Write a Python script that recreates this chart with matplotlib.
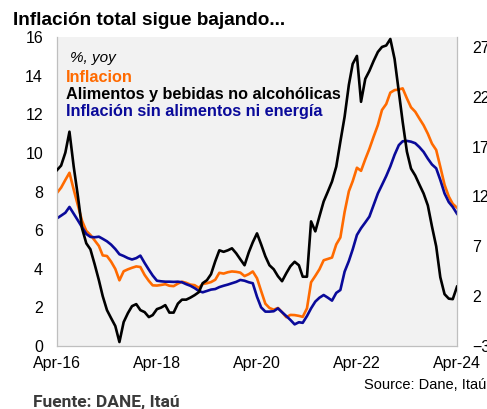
import matplotlib
matplotlib.use('agg')
import matplotlib.pyplot as plt
import matplotlib.dates as mdates
import pandas as pd

plt.rcParams['font.family'] = ['Liberation Sans', 'DejaVu Sans']

W, H = 487, 409

ORANGE = '#FF6A00'
BLUE = '#0A0A9A'
BLACK = '#000000'
BG = '#F2F2F2'
GRID = '#BFBFBF'

months = pd.date_range('2016-04-01', periods=97, freq='MS')

# headline CPI, % yoy (left axis)
inflacion = [
    7.93, 8.20, 8.60, 8.97, 8.10, 7.27, 6.48, 5.96, 5.75,
    5.47, 5.18, 4.69, 4.66, 4.37, 3.99, 3.40, 3.87, 3.97, 4.05, 4.12, 4.09,
    3.68, 3.37, 3.14, 3.13, 3.16, 3.20, 3.12, 3.10, 3.23, 3.33, 3.27, 3.18,
    3.15, 3.01, 3.21, 3.25, 3.31, 3.43, 3.79, 3.75, 3.82, 3.86, 3.84, 3.80,
    3.62, 3.72, 3.86, 3.51, 2.85, 2.19, 1.97, 1.88, 1.97, 1.75, 1.49, 1.61,
    1.60, 1.56, 1.51, 1.95, 3.30, 3.63, 3.97, 4.44, 4.51, 4.58, 5.26, 5.62,
    6.94, 8.01, 8.53, 9.23, 9.07, 9.67, 10.21, 10.84, 11.44, 12.22, 12.53, 13.12,
    13.25, 13.28, 13.34, 12.82, 12.36, 12.13, 11.78, 11.43, 10.99, 10.48, 10.15, 9.28,
    8.35, 7.74, 7.36, 7.16,
]

# core (sin alimentos ni energia), % yoy (left axis)
sin_alimentos = [
    6.61, 6.75, 6.90, 7.20, 6.85, 6.50, 6.15, 5.80, 5.65,
    5.63, 5.66, 5.55, 5.42, 5.25, 5.02, 4.75, 4.66, 4.55, 4.48, 4.55, 4.68,
    4.30, 3.95, 3.65, 3.38, 3.35, 3.33, 3.33, 3.32, 3.33, 3.30, 3.20, 3.12,
    3.00, 2.85, 2.78, 2.85, 2.92, 2.95, 3.05, 3.12, 3.18, 3.25, 3.32, 3.42,
    3.38, 3.30, 3.25, 2.55, 2.00, 1.78, 1.78, 1.80, 1.95, 1.75, 1.55, 1.35,
    1.12, 1.23, 1.20, 1.55, 1.95, 2.30, 2.50, 2.64, 2.50, 2.35, 2.75, 2.90,
    3.85, 4.40, 5.00, 5.75, 6.10, 6.40, 6.70, 7.30, 7.90, 8.34, 8.80, 9.30,
    9.90, 10.40, 10.60, 10.62, 10.58, 10.50, 10.30, 10.05, 9.70, 9.40, 9.20, 8.60,
    7.90, 7.45, 7.20, 6.85,
]

# food and non-alcoholic beverages, % yoy (right axis)
alimentos = [
    14.65, 15.10, 16.40, 18.50, 15.00, 12.00, 8.80, 7.30, 6.70,
    5.20, 3.60, 2.00, 0.60, -0.20, -1.00, -2.60, -0.60, 0.30, 1.00, 1.20, 0.60,
    0.40, -0.10, 0.10, 0.70, 0.85, 1.10, 0.35, 0.35, 1.25, 1.65, 1.65, 1.85,
    2.10, 2.40, 3.30, 3.60, 4.20, 5.50, 6.60, 6.45, 6.60, 6.80, 6.30, 5.70,
    5.10, 6.40, 7.40, 8.30, 7.20, 6.00, 5.10, 4.70, 4.00, 3.50, 4.30, 5.00,
    5.45, 5.10, 3.95, 3.95, 9.50, 8.50, 10.00, 11.50, 12.50, 13.50, 15.00, 17.50,
    20.00, 23.20, 25.30, 26.10, 21.50, 23.80, 24.60, 25.60, 26.50, 27.00, 27.15, 27.80,
    25.80, 22.50, 19.50, 16.50, 14.80, 14.10, 13.20, 12.30, 11.10, 9.00, 7.00, 3.90,
    2.20, 1.75, 1.70, 2.95,
]

left_ticks = [0, 2, 4, 6, 8, 10, 12, 14, 16]
right_ticks = [-3, 2, 7, 12, 17, 22, 27]
x_ticks = pd.to_datetime(['2016-04-01', '2018-04-01', '2020-04-01', '2022-04-01', '2024-04-01'])


def fx(px):
    return px / W


def fy(py):
    return 1 - py / H


fig = plt.figure(figsize=(W / 100, H / 100), dpi=100)
ax = fig.add_axes([fx(57), fy(346), fx(457) - fx(57), fy(37) - fy(346)])
ax.set_facecolor(BG)

ax.plot(months, inflacion, color=ORANGE, lw=1.9, solid_joinstyle='round')
ax.plot(months, sin_alimentos, color=BLUE, lw=1.9, solid_joinstyle='round')
ax.set_ylim(0, 16)
ax.set_yticks(left_ticks)
ax.set_xlim(months[0], months[-1])
ax.set_xticks(x_ticks)
ax.xaxis.set_major_formatter(mdates.DateFormatter('%b-%y'))

ax2 = ax.twinx()
ax2.plot(months, alimentos, color=BLACK, lw=1.9, solid_joinstyle='round')
ax2.set_ylim(-3, 28)
ax2.set_yticks(right_ticks)

for s in ['left', 'bottom', 'right']:
    ax.spines[s].set_color(GRID)
    ax.spines[s].set_linewidth(0.9)
ax.spines['top'].set_visible(False)
for s in ax2.spines.values():
    s.set_visible(False)

ax.tick_params(axis='y', length=0, pad=10, labelsize=11.5, colors='#000000')
ax.tick_params(axis='x', length=0, pad=7, labelsize=11.5, colors='#000000')
ax2.tick_params(axis='y', length=0, pad=10.8, labelsize=11.5, colors='#000000')

# title and notes
fig.text(fx(13), fy(25), 'Inflación total sigue bajando...', fontsize=13.7,
         fontweight='bold', va='baseline', ha='left')
fig.text(fx(70), fy(58), '%, yoy', fontsize=11, style='italic', va='center', ha='left')
fig.text(fx(66), fy(77), 'Inflacion', fontsize=11.7, fontweight='bold',
         color=ORANGE, va='center', ha='left')
fig.text(fx(66), fy(95), 'Alimentos y bebidas no alcohólicas', fontsize=11.7,
         fontweight='bold', color=BLACK, va='center', ha='left')
fig.text(fx(66), fy(112), 'Inflación sin alimentos ni energía', fontsize=11.7,
         fontweight='bold', color=BLUE, va='center', ha='left')

fig.text(fx(486), fy(385), 'Source: Dane, Itaú', fontsize=10.5, va='center', ha='right')
fig.text(fx(33), fy(407), 'Fuente: DANE, Itaú', fontsize=12.5, fontweight='bold',
         color='#3A3A3A', va='baseline', ha='left', family=['Roboto', 'DejaVu Sans'])

fig.savefig('out.png', dpi=100, facecolor='white')
